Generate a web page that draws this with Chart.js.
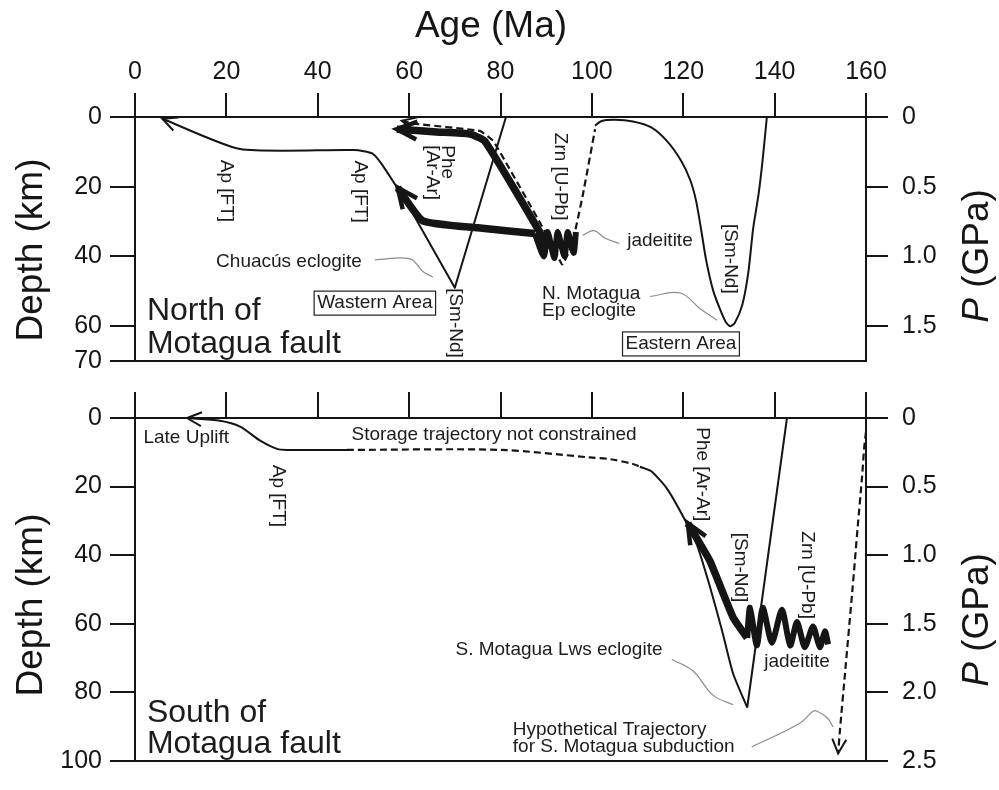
<!DOCTYPE html>
<html>
<head>
<meta charset="utf-8">
<script src="https://cdn.jsdelivr.net/npm/chart.js@4.4.1/dist/chart.umd.min.js"></script>
<style>
  body { margin: 0; background: #fff; }
  #wrap { position: relative; width: 999px; height: 790px; }
  canvas { position: absolute; left: 0; }
</style>
</head>
<body>
<div id="wrap">
  <canvas id="north" width="999" height="390" style="top:0"></canvas>
  <canvas id="south" width="999" height="405" style="top:385px"></canvas>
</div>
<script>
// ---- tick values ----
const ageTicks = [0, 20, 40, 60, 80, 100, 120, 140, 160];
const depthTicksN = [0, 20, 40, 60, 70];
const pressTicksN = [0, 0.5, 1.0, 1.5];
const depthTicksS = [0, 20, 40, 60, 80, 100];
const pressTicksS = [0, 0.5, 1.0, 1.5, 2.0, 2.5];

// ---- North of Motagua fault (age Ma / depth km) ----
const nApAge = [6, 23, 48, 52, 54, 57.5];
const nApDepth = [0.5, 9.2, 9.5, 10.5, 13.5, 20.5];
const nChuAge = [57.5, 70, 81.2];
const nChuDepth = [20, 49, 0];
const nJadLowAge = [57.5, 63, 75, 87.5];
const nJadLowDepth = [20.3, 29.8, 31.8, 33.4];
const nCoilAge = [87.5, 89.5, 90.3, 91.8, 92.5, 94, 94.7, 96, 96.5];
const nCoilDepth = [33.4, 40, 33, 40.5, 33, 40, 33, 39, 33];
const nJadUpAge = [57.3, 66, 73.3, 76.6, 89, 90];
const nJadUpDepth = [3.5, 4.3, 4.9, 7, 34, 38];
const nZrnAge = [58.4, 61, 75.5, 78.5, 91.5, 93.5, 95.6, 98, 100.7];
const nZrnDepth = [1.1, 1.9, 4, 7, 37, 42.3, 36.9, 22.5, 3.5];
const nEpAge = [100.7, 102, 105, 109, 113, 116.5, 119.5, 121.5, 122.8, 124, 125, 126.5, 128, 129.3, 130.3, 131.3, 132.9, 134.2, 135.3, 136.5, 137.4, 138.3];
const nEpDepth = [2.5, 1.2, 0.8, 1.3, 3, 7, 12.5, 18, 24, 33, 41, 49.6, 55, 58.8, 60, 59, 54, 45, 32, 22, 12, 0];
const nLeadJadAge = [98, 100.5, 102.8, 106];
const nLeadJadDepth = [33.9, 32.6, 34.7, 36.3];
const nLeadChuAge = [52.5, 60.2, 63, 65.2];
const nLeadChuDepth = [41, 40.7, 44.3, 45.9];
const nLeadEpAge = [112.7, 119.3, 123.7, 127.4];
const nLeadEpDepth = [51.5, 50.5, 55, 58.3];

// ---- South of Motagua fault ----
const sUpliftAge = [11.4, 18.6, 23, 27.4, 31.1, 33.3, 46.4];
const sUpliftDepth = [0, 0.8, 2.5, 6.6, 9, 9.3, 9.3];
const sStoreAge = [46.4, 79.9, 99.6, 104, 109, 110.5];
const sStoreDepth = [9.3, 9.3, 11.5, 12, 13.4, 14.2];
const sPheAge = [110.5, 113, 116.4, 120, 123, 125.8, 128.5, 130.9, 134];
const sPheDepth = [14.2, 15.5, 20.5, 28.8, 37, 49, 62, 74.5, 84.4];
const sLwsAge = [134, 142.7];
const sLwsDepth = [84.4, 0];
const sJadAge = [121, 125.8, 130.9, 134];
const sJadDepth = [30.7, 41.6, 58.1, 64.1];
const sCoilAge = [134, 134.6, 136.1, 137.4, 139.4, 141.6, 143.4, 144.9, 146.6, 148.4, 149.9, 151, 151.7];
const sCoilDepth = [64.1, 55.3, 66.3, 55.3, 65.5, 55.9, 66.3, 59.5, 66.8, 60.8, 66.8, 62.2, 66];
const sHypoAge = [160, 159.6, 159.1, 158.2, 157.1, 155.4, 154.3, 153.9];
const sHypoDepth = [4, 8.8, 17.8, 31.5, 49, 74.5, 91, 97.8];
const sLeadLwsAge = [117.5, 122.1, 126.5, 130.9];
const sLeadLwsDepth = [70.4, 73.7, 80.8, 83.6];
const sLeadHypoAge = [135, 145.5, 148.4, 149.3, 151.5, 152.8];
const sLeadHypoDepth = [95.9, 89, 85.5, 85.5, 87.4, 90.1];

const FONT = "'Liberation Sans', Arial, Helvetica, sans-serif";
const INK = '#151515';
Chart.defaults.font.family = FONT;

const pts = (a, d) => a.map((x, i) => ({ x, y: d[i] }));
function path(a, d, style) {
  return Object.assign({ data: pts(a, d), showLine: true, pointRadius: 0, borderColor: INK,
    borderWidth: 2, tension: 0, fill: false, borderJoinStyle: 'round' }, style);
}
const thin = {};
const thick = { borderWidth: 7.5 };
const coil = { borderWidth: 6, tension: 0.22 };
const dashed = { borderDash: [7, 4], borderWidth: 2.2 };
const leader = { borderColor: '#8c8c8c', borderWidth: 1.2, tension: 0.4 };

// arrows, text notes, frame and axis titles
const decor = {
  id: 'decor',
  afterDraw(chart, args, opts) {
    const { ctx, chartArea: ca, scales } = chart;
    ctx.save();
    ctx.strokeStyle = INK; ctx.fillStyle = INK; ctx.lineWidth = 2;
    ctx.beginPath(); ctx.moveTo(ca.left, ca.bottom); ctx.lineTo(ca.right, ca.bottom); ctx.stroke();

    chart.data.datasets.forEach((ds, i) => {
      if (!ds.arrow) return;
      const el = chart.getDatasetMeta(i).data;
      const tip = ds.arrow === 'start' ? el[0] : el[el.length - 1];
      const from = ds.arrow === 'start' ? el[1] : el[el.length - 2];
      const big = ds.borderWidth > 4;
      const len = big ? 22 : 16, spread = big ? 0.42 : 0.45;
      const ang = Math.atan2(tip.y - from.y, tip.x - from.x);
      ctx.lineWidth = big ? 4.5 : 2;
      ctx.setLineDash([]);
      ctx.lineJoin = 'miter';
      ctx.beginPath();
      ctx.moveTo(tip.x - len * Math.cos(ang - spread), tip.y - len * Math.sin(ang - spread));
      ctx.lineTo(tip.x, tip.y);
      ctx.lineTo(tip.x - len * Math.cos(ang + spread), tip.y - len * Math.sin(ang + spread));
      ctx.stroke();
    });

    ctx.fillStyle = '#1c1c1c';
    (opts.notes || []).forEach(n => {
      const px = scales.x.getPixelForValue(n.x), py = scales.y.getPixelForValue(n.y);
      ctx.save();
      ctx.translate(px, py);
      if (n.rot) ctx.rotate(Math.PI / 2);
      ctx.font = (n.size || 19) + 'px ' + FONT;
      ctx.textAlign = n.align || 'center';
      ctx.textBaseline = 'middle';
      ctx.fillText(n.text, 0, 0);
      if (n.box) {
        const w = ctx.measureText(n.text).width + 6;
        ctx.lineWidth = 1.2; ctx.strokeStyle = '#222';
        ctx.strokeRect(-w / 2, -12, w, 24);
      }
      ctx.restore();
    });

    ctx.fillStyle = INK;
    (opts.titles || []).forEach(t => {
      ctx.save();
      ctx.translate(t.x, t.y);
      if (t.rot) ctx.rotate(-Math.PI / 2);
      ctx.textBaseline = 'alphabetic';
      ctx.textAlign = 'left';
      const fi = 'italic 37px ' + FONT, fn = '37px ' + FONT;
      ctx.font = fi; const w1 = t.italic ? ctx.measureText(t.italic).width : 0;
      ctx.font = fn; const w2 = ctx.measureText(t.text).width;
      let x0 = -(w1 + w2) / 2;
      if (t.italic) { ctx.font = fi; ctx.fillText(t.italic, x0, 0); }
      ctx.font = fn; ctx.fillText(t.text, x0 + w1, 0);
      ctx.restore();
    });
    ctx.restore();
  }
};

function axes(dMax, pMax, dTicks, pTicks, showAge, topH) {
  const grid = (len) => ({ drawOnChartArea: false, tickLength: len, color: INK, lineWidth: 2 });
  const border = { color: INK, width: 2 };
  const tfont = { size: 25, family: FONT };
  return {
    x: {
      type: 'linear', position: 'top', min: 0, max: 160,
      afterBuildTicks: s => { s.ticks = ageTicks.map(v => ({ value: v })); },
      afterFit: s => { s.height = topH; },
      ticks: { display: showAge, font: tfont, color: INK, padding: 6, autoSkip: false, maxRotation: 0 },
      grid: grid(showAge ? 24 : 26), border
    },
    y: {
      type: 'linear', position: 'left', min: 0, max: dMax, reverse: true,
      afterBuildTicks: s => { s.ticks = dTicks.map(v => ({ value: v })); },
      afterFit: s => { s.width = 135; },
      ticks: { font: tfont, color: INK, padding: 8, autoSkip: false },
      grid: grid(25), border
    },
    p: {
      type: 'linear', position: 'right', min: 0, max: pMax, reverse: true,
      afterBuildTicks: s => { s.ticks = pTicks.map(v => ({ value: v })); },
      afterFit: s => { s.width = 133; },
      ticks: { font: tfont, color: INK, padding: 14, autoSkip: false,
        callback: v => (v === 0 ? '0' : v.toFixed(1)) },
      grid: grid(22), border
    }
  };
}

function makeChart(id, datasets, scales, padBottom, plugOpts) {
  new Chart(document.getElementById(id), {
    type: 'scatter',
    data: { datasets },
    options: {
      responsive: false, animation: false,
      layout: { padding: { left: 0, right: 0, top: 0, bottom: padBottom } },
      scales,
      plugins: { legend: { display: false }, tooltip: { enabled: false }, decor: plugOpts }
    },
    plugins: [decor]
  });
}

// ===== North of Motagua fault =====
makeChart('north', [
  path(nLeadChuAge, nLeadChuDepth, leader),
  path(nLeadJadAge, nLeadJadDepth, leader),
  path(nLeadEpAge, nLeadEpDepth, leader),
  path(nApAge, nApDepth, Object.assign({ arrow: 'start', tension: 0.2 }, thin)),
  path(nChuAge, nChuDepth, thin),
  path(nEpAge, nEpDepth, Object.assign({ tension: 0.25 }, thin)),
  path(nZrnAge, nZrnDepth, Object.assign({ arrow: 'start', tension: 0.1 }, dashed)),
  path(nJadLowAge, nJadLowDepth, Object.assign({ arrow: 'start', tension: 0.15 }, thick)),
  path(nJadUpAge, nJadUpDepth, Object.assign({ arrow: 'start', tension: 0.15 }, thick)),
  path(nCoilAge, nCoilDepth, coil)
], axes(70, 1.75, depthTicksN, pressTicksN, true, 117), 15, {
  notes: [
    { text: 'Ap [FT]', x: 19.9, y: 21.2, rot: true },
    { text: 'Ap [FT]', x: 49.2, y: 21.4, rot: true },
    { text: 'Phe', x: 68.3, y: 8.1, rot: true, align: 'left' },
    { text: '[Ar-Ar]', x: 65.0, y: 8.1, rot: true, align: 'left' },
    { text: 'Zrn [U-Pb]', x: 93.0, y: 17.1, rot: true },
    { text: '[Sm-Nd]', x: 70.0, y: 59.1, rot: true },
    { text: '[Sm-Nd]', x: 130.2, y: 40.7, rot: true },
    { text: 'jadeitite', x: 114.9, y: 35.5 },
    { text: 'Chuacús eclogite', x: 33.7, y: 41.5 },
    { text: 'Wastern Area', x: 52.5, y: 53.4, box: true },
    { text: 'North of', x: 2.6, y: 55.6, size: 32, align: 'left' },
    { text: 'Motagua fault', x: 2.6, y: 65.1, size: 32, align: 'left' },
    { text: 'N. Motagua', x: 89.1, y: 50.7, align: 'left' },
    { text: 'Ep eclogite', x: 89.1, y: 55.6, align: 'left' },
    { text: 'Eastern Area', x: 119.5, y: 65.1, box: true }
  ],
  titles: [
    { text: 'Age (Ma)', x: 491, y: 37 },
    { text: 'Depth (km)', x: 42, y: 250, rot: true },
    { italic: 'P', text: ' (GPa)', x: 988, y: 256, rot: true }
  ]
});

// ===== South of Motagua fault =====
makeChart('south', [
  path(sLeadLwsAge, sLeadLwsDepth, leader),
  path(sLeadHypoAge, sLeadHypoDepth, leader),
  path(sUpliftAge, sUpliftDepth, Object.assign({ arrow: 'start', tension: 0.25 }, thin)),
  path(sStoreAge, sStoreDepth, Object.assign({ tension: 0.3 }, dashed)),
  path(sPheAge, sPheDepth, Object.assign({ tension: 0.2 }, thin)),
  path(sLwsAge, sLwsDepth, thin),
  path(sHypoAge, sHypoDepth, Object.assign({ arrow: 'end', tension: 0.2 }, dashed)),
  path(sJadAge, sJadDepth, Object.assign({ arrow: 'start', tension: 0.15 }, thick)),
  path(sCoilAge, sCoilDepth, coil)
], axes(100, 2.5, depthTicksS, pressTicksS, false, 33), 7, {
  notes: [
    { text: 'Late Uplift', x: 11.2, y: 5.8 },
    { text: 'Ap [FT]', x: 31.3, y: 22.7, rot: true },
    { text: 'Storage trajectory not constrained', x: 78.6, y: 4.9 },
    { text: 'Phe [Ar-Ar]', x: 124.1, y: 16.4, rot: true },
    { text: '[Sm-Nd]', x: 132.4, y: 43.6, rot: true },
    { text: 'Zrn [U-Pb]', x: 147.1, y: 45.8, rot: true },
    { text: 'jadeitite', x: 144.9, y: 71 },
    { text: 'S. Motagua Lws eclogite', x: 92.8, y: 67.7 },
    { text: 'Hypothetical Trajectory', x: 82.7, y: 91, align: 'left' },
    { text: 'for S. Motagua subduction', x: 82.7, y: 95.9, align: 'left' },
    { text: 'South of', x: 2.6, y: 86, size: 32, align: 'left' },
    { text: 'Motagua fault', x: 2.6, y: 95, size: 32, align: 'left' }
  ],
  titles: [
    { text: 'Depth (km)', x: 42, y: 220, rot: true },
    { italic: 'P', text: ' (GPa)', x: 988, y: 235, rot: true }
  ]
});
</script>
</body>
</html>
